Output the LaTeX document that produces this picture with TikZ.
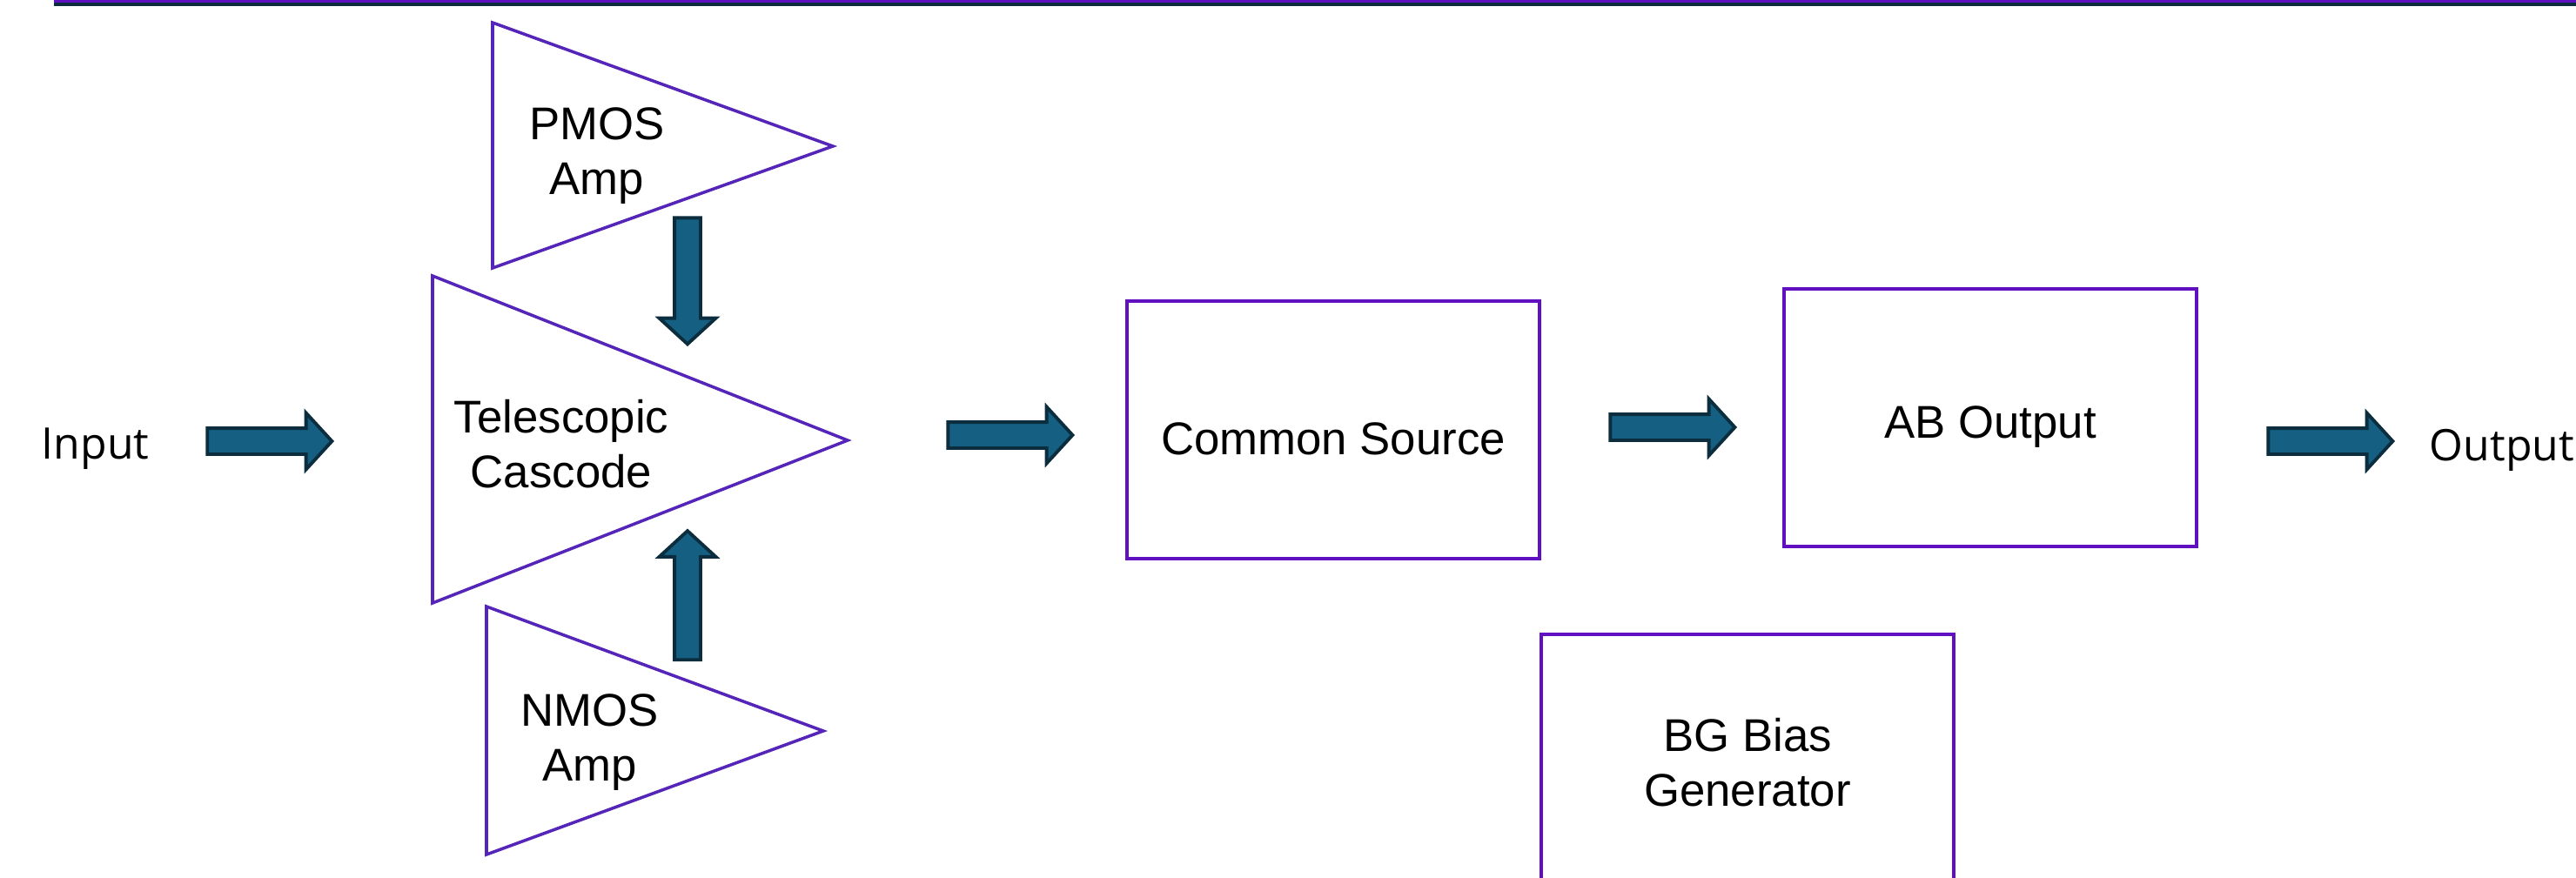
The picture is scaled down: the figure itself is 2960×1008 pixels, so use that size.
\documentclass[tikz,border=0pt]{standalone}
\usepackage{fontspec}
\setmainfont{Liberation Sans}
\newfontfamily\uifont{Open Sans}
\usetikzlibrary{shapes.arrows}
\definecolor{boxviolet}{HTML}{6010C0}
\definecolor{ampviolet}{HTML}{5425B8}
\definecolor{arrowfill}{HTML}{156082}
\definecolor{arrowline}{HTML}{0B2D3E}

\begin{document}
\begin{tikzpicture}[x=0.01cm, y=-0.01cm, line width=1.1pt,
      blkarrow/.style={single arrow, draw=arrowline, fill=arrowfill, line width=1.1pt,
        minimum height=1.43cm, inner sep=0.13cm, single arrow head extend=0.175cm,
        single arrow tip angle=95, outer sep=0pt},
      mytext/.style={align=center, font=\fontsize{15}{17.9}\selectfont},
      stage/.style={draw=boxviolet, minimum width=4.74cm, minimum height=2.96cm, mytext},
      amp/.style={draw=ampviolet, line width=1pt, line join=miter},
      side/.style={font=\uifont\fontsize{14.2}{17}\selectfont, inner sep=0pt}]
    \useasboundingbox (0,0) rectangle (2960,1008);
    \fill[boxviolet] (62,0) rectangle (2960,3);
    \fill[arrowline] (62,3) rectangle (2960,7);
    % amplifier stages
    \draw[amp] (566,26) -- (957,168) -- (566,308) -- cycle;
    \draw[amp] (497,317) -- (974,506) -- (497,693) -- cycle;
    \draw[amp] (559,697) -- (946,840) -- (559,982) -- cycle;
    \node[mytext] (pmos) at (686,179) {PMOS\\Amp};
    \node[mytext] (tele) at (645,510) {Telescopic\\Cascode};
    \node[mytext] (nmos) at (678,853) {NMOS\\Amp};
    % blocks
    \node[stage, text height=0.57cm, text depth=0pt] (cs) at (1532,494) {Common Source};
    \node[stage, text height=0.57cm, text depth=0.11cm] (ab) at (2287,480) {AB Output};
    \node[stage, minimum height=2.94cm] (bg) at (2008,876) {BG Bias\\Generator};
    \node[side, anchor=base west] (in) at (46,527) {Input};
    \node[side, anchor=base west] (out) at (2790,529) {Output};
    % signal flow
    \node[blkarrow] (a1) at (303,507) {};
    \node[blkarrow] (a2) at (1154,500) {};
    \node[blkarrow] (a3) at (1915,491) {};
    \node[blkarrow] (a4) at (2671,507) {};
    \node[blkarrow, rotate=-90, minimum height=1.45cm] (ap) at (790,316) {};
    \node[blkarrow, rotate=90, minimum height=1.48cm] (an) at (790,691) {};
  \end{tikzpicture}
\end{document}
